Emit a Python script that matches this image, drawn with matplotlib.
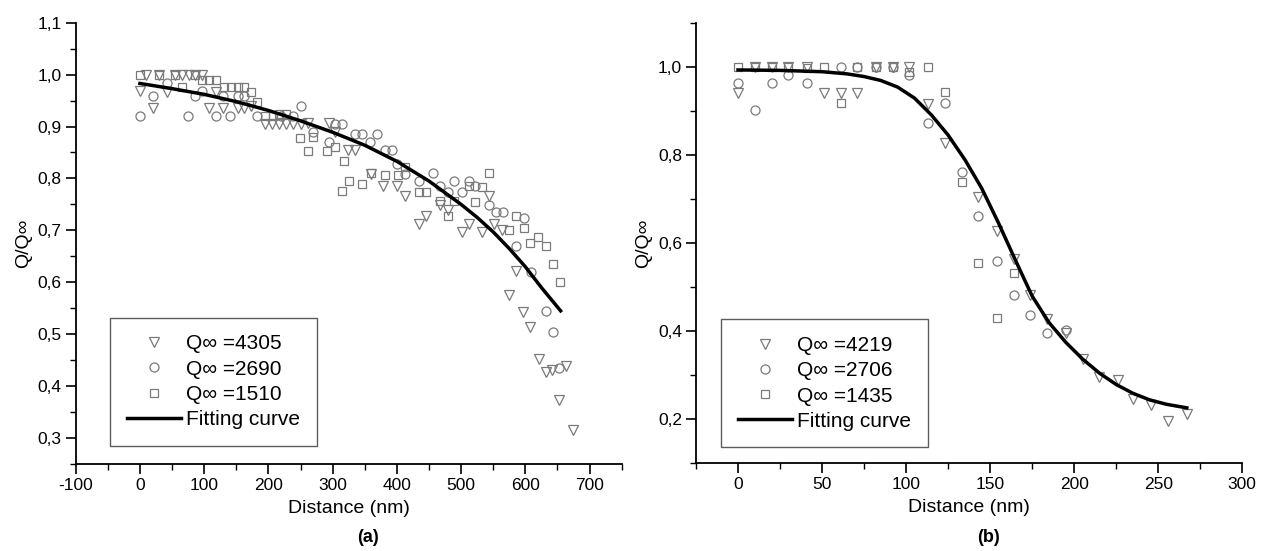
import numpy as np
import matplotlib
matplotlib.use("Agg")
import matplotlib.pyplot as plt
from matplotlib.ticker import MultipleLocator, FixedLocator

plt.rcParams['font.family'] = ['Liberation Sans', 'DejaVu Sans']
plt.rcParams['axes.unicode_minus'] = False

# ---- panel (a) data ----
a_tri_x = [0, 10, 21, 30, 42, 55, 65, 76, 86, 97, 108, 118, 129, 152, 162, 173,
           194, 205, 216, 227, 238, 250, 261, 294, 303, 324, 335, 359, 378, 400,
           412, 434, 446, 467, 480, 502, 512, 532, 543, 552, 563, 575, 586, 597,
           608, 621, 632, 642, 652, 664, 675]
a_tri_y = [0.968, 0.999, 0.936, 1.0, 0.967, 1.0, 1.0, 1.0, 1.0, 1.0, 0.936, 0.967,
           0.936, 0.936, 0.936, 0.94, 0.905, 0.905, 0.905, 0.905, 0.905, 0.905,
           0.907, 0.907, 0.89, 0.854, 0.854, 0.809, 0.786, 0.786, 0.767, 0.713,
           0.728, 0.749, 0.74, 0.696, 0.713, 0.696, 0.767, 0.713, 0.7, 0.576,
           0.622, 0.543, 0.514, 0.453, 0.428, 0.431, 0.373, 0.439, 0.316]

a_cir_x = [0, 21, 42, 75, 85, 97, 118, 129, 140, 152, 162, 183, 220, 239, 250,
           270, 294, 303, 315, 335, 346, 358, 369, 381, 392, 400, 413, 435, 456,
           467, 479, 489, 501, 512, 521, 543, 554, 565, 586, 598, 609, 632, 643, 652]
a_cir_y = [0.921, 0.959, 0.983, 0.921, 0.959, 0.968, 0.921, 0.959, 0.921, 0.959,
           0.959, 0.921, 0.921, 0.921, 0.939, 0.889, 0.87, 0.904, 0.904, 0.886,
           0.886, 0.87, 0.886, 0.854, 0.854, 0.828, 0.809, 0.796, 0.81, 0.786,
           0.773, 0.796, 0.773, 0.796, 0.786, 0.748, 0.735, 0.735, 0.67, 0.724,
           0.62, 0.545, 0.505, 0.434]

a_sq_x = [0, 30, 55, 65, 86, 97, 108, 118, 131, 142, 152, 162, 173, 183, 194, 207,
          216, 227, 249, 261, 270, 292, 303, 318, 315, 325, 346, 359, 381, 402,
          412, 434, 445, 467, 479, 489, 512, 521, 532, 543, 575, 586, 598, 608,
          620, 632, 643, 654]
a_sq_y = [1.0, 1.0, 1.0, 0.977, 1.0, 0.99, 0.989, 0.989, 0.977, 0.977, 0.977,
          0.977, 0.967, 0.947, 0.921, 0.921, 0.925, 0.925, 0.878, 0.853, 0.88,
          0.853, 0.86, 0.834, 0.775, 0.796, 0.789, 0.81, 0.807, 0.806, 0.822,
          0.773, 0.773, 0.757, 0.728, 0.757, 0.786, 0.754, 0.783, 0.81, 0.7,
          0.728, 0.705, 0.675, 0.687, 0.67, 0.635, 0.601]

a_fit_x = [0, 50, 100, 150, 200, 250, 300, 350, 400, 450, 500, 525, 550, 575,
           600, 625, 655]
a_fit_y = [0.983, 0.973, 0.962, 0.948, 0.931, 0.911, 0.889, 0.864, 0.833,
           0.795, 0.75, 0.725, 0.697, 0.665, 0.63, 0.59, 0.545]

a_labels = ["Q\u221e =4305", "Q\u221e =2690", "Q\u221e =1510", "Fitting curve"]

# ---- panel (b) data ----
b_tri_x = [0, 10, 20, 30, 41, 51, 61, 71, 82, 92, 102, 113, 123, 143, 154, 164,
           174, 184, 195, 205, 215, 226, 235, 246, 256, 267]
b_tri_y = [0.942, 1.0, 1.0, 1.0, 1.0, 0.942, 0.942, 0.942, 1.0, 1.0, 1.0, 0.917,
           0.827, 0.706, 0.627, 0.564, 0.483, 0.429, 0.395, 0.336, 0.296, 0.289,
           0.245, 0.232, 0.196, 0.211]

b_cir_x = [0, 10, 20, 30, 41, 61, 71, 82, 92, 102, 113, 123, 133, 143, 154, 164,
           174, 184, 195]
b_cir_y = [0.965, 0.902, 0.965, 0.983, 0.965, 1.0, 1.0, 1.0, 1.0, 0.983, 0.873,
           0.918, 0.763, 0.662, 0.56, 0.483, 0.438, 0.397, 0.402]

b_sq_x = [0, 10, 20, 30, 41, 51, 61, 71, 82, 92, 102, 113, 123, 133, 143, 154, 164]
b_sq_y = [1.0, 1.0, 1.0, 1.0, 0.998, 1.0, 0.918, 1.0, 1.0, 1.0, 0.99, 1.0, 0.945,
          0.74, 0.555, 0.431, 0.533]

b_fit_x = [0, 25, 50, 65, 75, 85, 95, 105, 115, 125, 135, 145, 155, 165, 175,
           185, 195, 205, 215, 225, 235, 245, 255, 267]
b_fit_y = [0.994, 0.993, 0.99, 0.985, 0.979, 0.97, 0.955, 0.93, 0.892, 0.846,
           0.79, 0.725, 0.646, 0.562, 0.48, 0.42, 0.375, 0.337, 0.305, 0.279,
           0.259, 0.244, 0.234, 0.226]

b_labels = ["Q\u221e =4219", "Q\u221e =2706", "Q\u221e =1435", "Fitting curve"]


def comma(v):
    return ("%.1f" % v).replace(".", ",")


def draw(ax, tri, cir, sq, fit, labels, xlim, ylim, xmaj, xmin, yticks, ymin,
         legpos):
    gray = "#7a7a7a"
    ax.plot(tri[0], tri[1], linestyle="none", marker="v", markersize=7,
            markerfacecolor="none", markeredgecolor=gray, markeredgewidth=0.9,
            label=labels[0])
    ax.plot(cir[0], cir[1], linestyle="none", marker="o", markersize=6.5,
            markerfacecolor="none", markeredgecolor=gray, markeredgewidth=0.9,
            label=labels[1])
    ax.plot(sq[0], sq[1], linestyle="none", marker="s", markersize=6,
            markerfacecolor="none", markeredgecolor=gray, markeredgewidth=0.9,
            label=labels[2])
    ax.plot(fit[0], fit[1], color="black", linewidth=2.5, label=labels[3],
            solid_joinstyle="round")

    ax.set_xlim(*xlim)
    ax.set_ylim(*ylim)
    ax.xaxis.set_major_locator(MultipleLocator(xmaj))
    ax.xaxis.set_minor_locator(MultipleLocator(xmin))
    ax.yaxis.set_major_locator(FixedLocator(yticks))
    ax.set_yticklabels([comma(v) for v in yticks])
    ax.yaxis.set_minor_locator(MultipleLocator(ymin))
    for s in ["top", "right"]:
        ax.spines[s].set_visible(False)
    for s in ["left", "bottom"]:
        ax.spines[s].set_linewidth(1.3)
    ax.tick_params(which="major", direction="out", length=7, width=1.2,
                   labelsize=12.5, pad=3)
    ax.tick_params(which="minor", direction="out", length=4, width=1.0)
    ax.set_xlabel("Distance (nm)", fontsize=14, labelpad=5)
    ax.set_ylabel("Q/Q\u221e", fontsize=14, labelpad=4)

    leg = ax.legend(loc="lower left", bbox_to_anchor=legpos, borderaxespad=0,
                    fontsize=15, frameon=True, fancybox=False, handlelength=2.6,
                    handletextpad=0.25, labelspacing=0.3, borderpad=0.8)
    leg.get_frame().set_edgecolor("#333333")
    leg.get_frame().set_linewidth(1.0)


fig = plt.figure(figsize=(12.64, 5.51), dpi=100)
ax1 = fig.add_axes([0.0599, 0.1579, 0.4319, 0.8009])
ax2 = fig.add_axes([0.5506, 0.1592, 0.4322, 0.7985])

draw(ax1, (a_tri_x, a_tri_y), (a_cir_x, a_cir_y), (a_sq_x, a_sq_y),
     (a_fit_x, a_fit_y), a_labels, (-100, 750), (0.25, 1.1), 100, 50,
     [0.3, 0.4, 0.5, 0.6, 0.7, 0.8, 0.9, 1.0, 1.1], 0.05, (0.063, 0.041))
draw(ax2, (b_tri_x, b_tri_y), (b_cir_x, b_cir_y), (b_sq_x, b_sq_y),
     (b_fit_x, b_fit_y), b_labels, (-25, 300), (0.1, 1.1), 50, 25,
     [0.2, 0.4, 0.6, 0.8, 1.0], 0.1, (0.046, 0.036))

fig.text(0.291, 0.016, "(a)", fontsize=13, fontweight="bold", ha="center")
fig.text(0.782, 0.016, "(b)", fontsize=13, fontweight="bold", ha="center")

fig.savefig("out.png", dpi=100)
